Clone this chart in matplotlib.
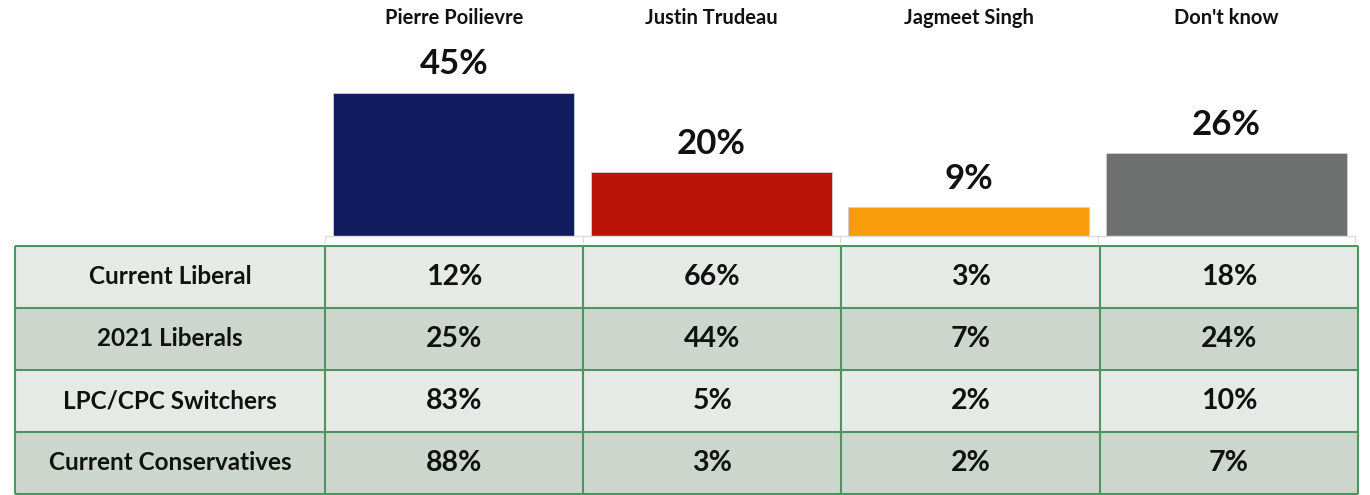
import numpy as np
import matplotlib.pyplot as plt
from matplotlib.patches import Rectangle

# top bar chart - overall preference
candidates = ["Pierre Poilievre", "Justin Trudeau", "Jagmeet Singh", "Don't know"]
overall = [45, 20, 9, 26]
bar_colors = ["#111C5E", "#BB1208", "#F99D0C", "#6E7070"]

# table below - breakdown by group
groups = ["Current Liberal", "2021 Liberals", "LPC/CPC Switchers", "Current Conservatives"]
poilievre = [12, 25, 83, 88]
trudeau = [66, 44, 5, 3]
singh = [3, 7, 2, 2]
dont_know = [18, 24, 10, 7]

plt.rcParams['font.family'] = ['Lato', 'DejaVu Sans']
WEIGHT = 'bold'

W, H = 1370, 495
fig = plt.figure(figsize=(W / 100, H / 100), dpi=100)

#bar axes : spans the 4 data columns, baseline at y=236px
base_px = 236
ax = fig.add_axes([325 / W, (H - base_px) / H, (1355 - 325) / W, base_px / H])
px_per_unit = 3.18
ax.set_ylim(0, base_px / px_per_unit)
ax.set_xlim(-0.5, 3.5)
x = np.arange(len(candidates))
bars = ax.bar(x, overall, width=0.935, color=bar_colors, edgecolor='#D0D0D0', linewidth=0.6)
for xi, v in zip(x, overall):
    ax.text(xi, v + 9, f"{v}%", ha='center', va='center', fontsize=25, fontweight=WEIGHT, color='#111111')
for xi, name in zip(x, candidates):
    ax.text(xi, (base_px - 18) / px_per_unit, name, ha='center', va='center',
            fontsize=14.5, fontweight=WEIGHT, color='#111111')

for s in ['top', 'right', 'left']:
    ax.spines[s].set_visible(False)
ax.spines['bottom'].set_color('#DCDCDC')
ax.spines['bottom'].set_linewidth(1.0)
ax.set_yticks([])
ax.set_xticks(np.arange(-0.5, 4, 1))
ax.set_xticklabels([])
ax.tick_params(axis='x', length=5, color='#DCDCDC', width=1.0)

#table axes
top_px, bot_px = 246, 494
tab = fig.add_axes([15 / W, (H - bot_px) / H, (1358 - 15) / W, (bot_px - top_px) / H])
label_w = 1.2
n_rows = len(groups)
tab.set_xlim(0, label_w + 4)
tab.set_ylim(n_rows, 0)
tab.axis('off')

cols = [poilievre, trudeau, singh, dont_know]
row_colors = ['#E6EAE6', '#CCD6CD']
grid_col = '#4E9460'
for i, g in enumerate(groups):
    fc = row_colors[i % 2]
    tab.add_patch(Rectangle((0, i), label_w + 4, 1, facecolor=fc, edgecolor='none'))
    tab.text(label_w / 2, i + 0.5, g, ha='center', va='center', fontsize=17.5,
             fontweight=WEIGHT, color='#111111')
    for j, col in enumerate(cols):
        tab.text(label_w + j + 0.5, i + 0.5, f"{col[i]}%", ha='center', va='center',
                 fontsize=20.5, fontweight=WEIGHT, color='#111111')

for i in range(n_rows + 1):
    tab.plot([0, label_w + 4], [i, i], color=grid_col, lw=1.5, clip_on=False, solid_capstyle='butt')
for xv in [0, label_w, label_w + 1, label_w + 2, label_w + 3, label_w + 4]:
    tab.plot([xv, xv], [0, n_rows], color=grid_col, lw=1.5, clip_on=False, solid_capstyle='butt')

fig.savefig("out.png", dpi=100)
